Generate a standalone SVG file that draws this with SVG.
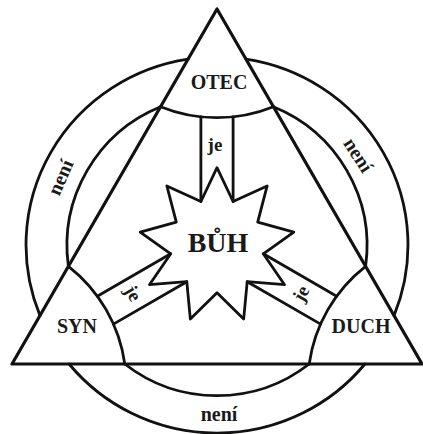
<svg xmlns="http://www.w3.org/2000/svg" width="423" height="434" viewBox="0 0 423 434">
<style>
.ln{fill:none;stroke:#111;stroke-width:2.8;stroke-linejoin:round;stroke-linecap:round}
.tri{fill:none;stroke:#111;stroke-width:3.2;stroke-linejoin:round}
.t{font-family:"Liberation Serif","Times New Roman",serif;font-weight:bold;fill:#1a1a1a;text-anchor:middle}
</style>
<rect width="423" height="434" fill="#fff"/>
<g id="frame">
<path class="ln" d="M188 59.2A191 188 0 0 0 40 315.6M246 59.2A191 188 0 0 1 394 315.6M69.1 364A191 188 0 0 0 364.9 364"/>
<path class="ln" d="M160.6 106.7A150 150 0 0 0 68.4 266.3M273.4 106.7A150 150 0 0 1 365.6 266.3M124.8 364A150 150 0 0 0 309.2 364"/>
<path class="tri" d="M217 9L12 364H422Z"/>
</g>
<g id="otec"><path class="ln" d="M160.6 106.7A150 150 0 0 0 273.4 106.7"/><text class="t" x="219" y="89" font-size="20">OTEC</text></g>
<g id="syn"><path class="ln" d="M68.4 266.3A150 150 0 0 1 124.8 364"/><text class="t" x="77" y="333" font-size="20">SYN</text></g>
<g id="duch"><path class="ln" d="M365.6 266.3A150 150 0 0 0 309.2 364"/><text class="t" x="361" y="333" font-size="20">DUCH</text></g>
<g id="buh"><polygon class="ln" points="217,167.67 233.07,201.5 267.14,185.92 257.7,222.17 293.81,232.13 263.29,253.83 284.55,284.67 247.21,281.67 243.68,318.97 217,292.67 190.32,318.97 186.79,281.67 149.45,284.67 170.71,253.83 140.19,232.13 176.3,222.17 166.86,185.92 200.93,201.5"/><text class="t" x="218" y="252" font-size="28">BŮH</text></g>
<g id="connectors">
<path class="ln" d="M200.9 201.5V116.9M233.1 201.5V117M170.7 253.8L97.3 296.2M186.8 281.7L113.4 324.1M263.3 253.8L336.7 296.2M247.2 281.7L320.6 324.1"/>
<text class="t" x="215" y="151" font-size="19">je</text>
<text class="t" font-size="19" x="0" y="5" transform="translate(132 294) rotate(60)">je</text>
<text class="t" font-size="19" x="0" y="5" transform="translate(302 294) rotate(-60)">je</text>
<text class="t" font-size="20" x="0" y="5" transform="translate(62 178) rotate(-66.5)">není</text>
<text class="t" font-size="20" x="0" y="5" transform="translate(357 156) rotate(57)">není</text>
<text class="t" font-size="20" x="219" y="421">není</text>
</g>
</svg>
